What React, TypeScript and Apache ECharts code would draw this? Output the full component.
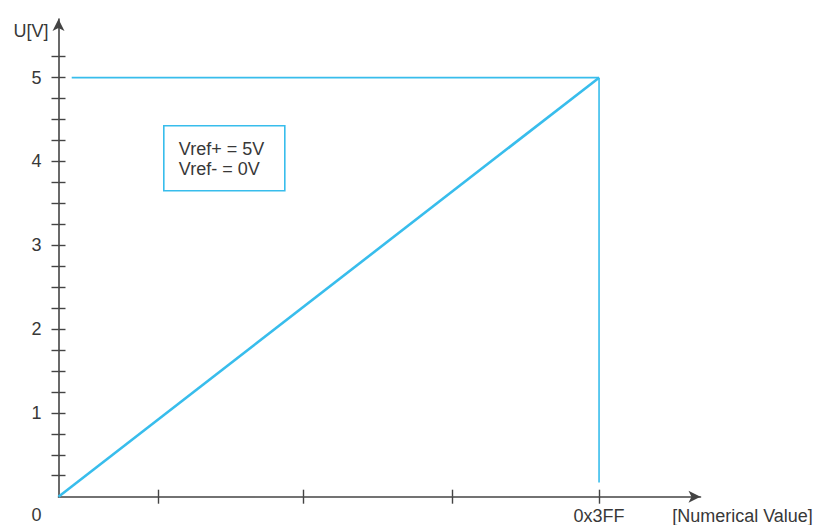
import React, { useEffect, useRef } from "react";
import * as echarts from "echarts";

// Data
const codes = [0, 1023]; // numerical value (0 .. 0x3FF)
const voltages = [0, 5]; // U[V]
const refLineX = [25, 1023]; // horizontal guide at 5 V
const refLineY = [5, 5];
const dropLineX = [1023, 1023]; // vertical guide at 0x3FF
const dropLineY = [5, 0.17];
const yTickValues = [0.25, 0.5, 0.75, 1, 1.25, 1.5, 1.75, 2, 2.25, 2.5, 2.75, 3, 3.25, 3.5, 3.75, 4, 4.25, 4.5, 4.75, 5, 5.25];
const yLabelValues = [0, 1, 2, 3, 4, 5];
const xTickValues = [188, 463, 745, 1023];
const xLabelValues = [1023];
const xLabelTexts: Record<number, string> = { 1023: "0x3FF" };
const noteLines = ["Vref+ = 5V", "Vref- = 0V"];

const BLUE = "#38bdec";
const AXIS = "#444";
const TEXT = "#383838";
const FONT = "Liberation Sans, Arial, sans-serif";
const FS = 18;

export default function App() {
  const ref = useRef<HTMLDivElement>(null);
  useEffect(() => {
    if (!ref.current) return;
    const chart = echarts.init(ref.current, undefined, { renderer: "svg" });
    const pair = (xs: number[], ys: number[]) => xs.map((x, i) => [x, ys[i]]);
    const xBase = {
      type: "value" as const,
      min: 0,
      max: 1215,
      position: "bottom" as const,
      splitLine: { show: false },
    };
    const yBase = {
      type: "value" as const,
      min: 0,
      max: 5.7,
      position: "left" as const,
      splitLine: { show: false },
    };
    chart.setOption({
      animation: false,
      textStyle: { fontFamily: FONT },
      grid: { left: 58.5, right: 115.5, top: 19, bottom: 28.3, containLabel: false },
      xAxis: [
        {
          ...xBase,
          name: "[Numerical Value]",
          nameLocation: "end",
          nameGap: 42,
          nameTextStyle: { color: TEXT, fontSize: FS, align: "center", verticalAlign: "top", padding: [10, 0, 0, 0] },
          axisLine: { show: true, onZero: false, symbol: ["none", "arrow"], symbolSize: [9, 12], lineStyle: { color: AXIS, width: 1.6 } },
          axisTick: { show: true, inside: false, length: 7, customValues: xTickValues, lineStyle: { color: AXIS, width: 1.4 } },
          axisLabel: {
            show: true,
            margin: 10,
            fontSize: FS,
            color: TEXT,
            customValues: xLabelValues,
            formatter: (v: number) => xLabelTexts[v] ?? "",
          },
        },
        {
          ...xBase,
          axisLine: { show: false },
          axisTick: { show: true, inside: true, length: 7, customValues: xTickValues, lineStyle: { color: AXIS, width: 1.4 } },
          axisLabel: { show: false },
        },
      ],
      yAxis: [
        {
          ...yBase,
          name: "U[V]",
          nameLocation: "end",
          nameGap: -12,
          nameTextStyle: { color: TEXT, fontSize: FS, align: "right", verticalAlign: "middle", padding: [0, 10, 0, 0] },
          axisLine: { show: true, onZero: false, symbol: ["none", "arrow"], symbolSize: [9, 12], lineStyle: { color: AXIS, width: 1.6 } },
          axisTick: { show: true, inside: false, length: 7, customValues: yTickValues, lineStyle: { color: AXIS, width: 1.4 } },
          axisLabel: {
            show: true,
            margin: 17,
            fontSize: FS,
            color: TEXT,
            customValues: yLabelValues,
            formatter: (v: number) => (v === 0 ? "{z|0}" : String(v)),
            rich: { z: { fontSize: FS, color: TEXT, fontFamily: FONT, padding: [36, 0, 0, 0] } },
          },
        },
        {
          ...yBase,
          axisLine: { show: false },
          axisTick: { show: true, inside: true, length: 7, customValues: yTickValues, lineStyle: { color: AXIS, width: 1.4 } },
          axisLabel: { show: false },
        },
      ],
      series: [
        {
          type: "line",
          data: pair(refLineX, refLineY),
          symbol: "none",
          lineStyle: { color: BLUE, width: 1.6 },
          silent: true,
        },
        {
          type: "line",
          data: pair(dropLineX, dropLineY),
          symbol: "none",
          lineStyle: { color: BLUE, width: 1.6 },
          silent: true,
        },
        {
          type: "line",
          data: pair(codes, voltages),
          symbol: "none",
          lineStyle: { color: BLUE, width: 2.6 },
          silent: true,
        },
      ],
      graphic: [
        {
          type: "group",
          left: 163,
          top: 125,
          children: [
            {
              type: "rect",
              shape: { x: 0, y: 0, width: 121, height: 65 },
              style: { fill: "#fff", stroke: BLUE, lineWidth: 1.6 },
            },
            {
              type: "text",
              x: 15,
              y: 13,
              style: {
                text: noteLines.join("\n"),
                fontSize: FS,
                lineHeight: 20,
                fontFamily: FONT,
                fill: TEXT,
              },
            },
          ],
        },
      ],
    });
    return () => chart.dispose();
  }, []);
  return <div ref={ref} style={{ position: "absolute", left: 0, top: 0, width: 816, height: 525 }} />;
}
